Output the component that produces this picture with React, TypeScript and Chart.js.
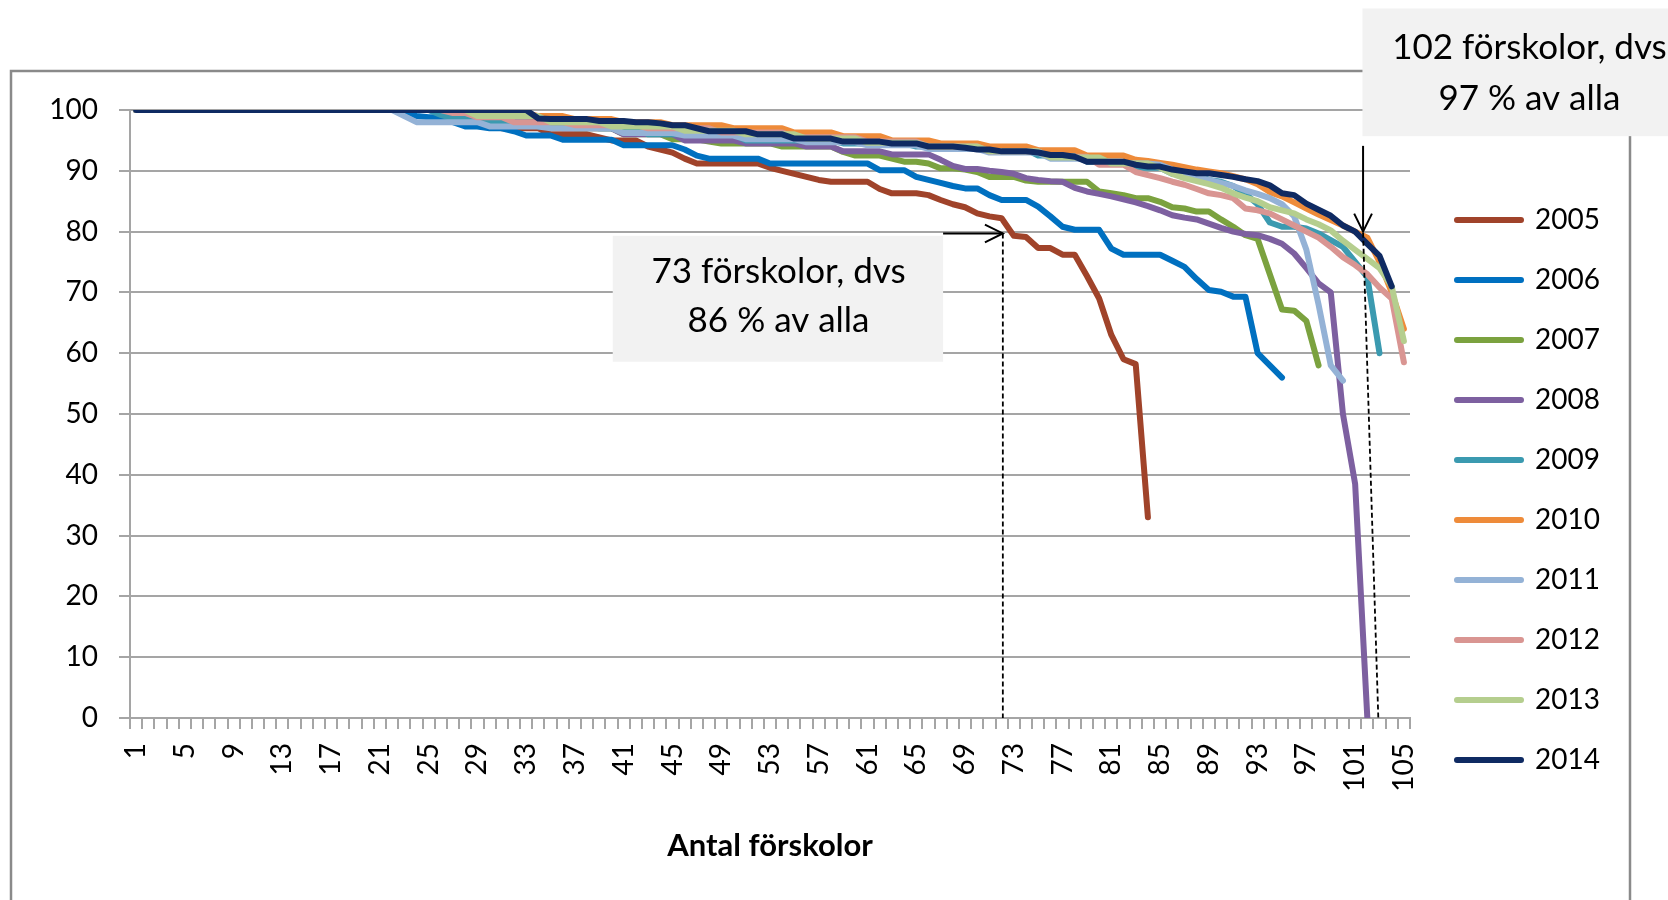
import React, { useEffect, useRef } from 'react';
import { Chart, registerables } from 'chart.js';

Chart.register(...registerables);

const categories = [
  '1','2','3','4','5','6','7','8','9','10','11','12','13','14','15','16','17','18','19','20',
  '21','22','23','24','25','26','27','28','29','30','31','32','33','34','35','36','37','38','39','40',
  '41','42','43','44','45','46','47','48','49','50','51','52','53','54','55','56','57','58','59','60',
  '61','62','63','64','65','66','67','68','69','70','71','72','73','74','75','76','77','78','79','80',
  '81','82','83','84','85','86','87','88','89','90','91','92','93','94','95','96','97','98','99','100',
  '101','102','103','104','105',
];

const yearLabels = ['2005', '2006', '2007', '2008', '2009', '2010', '2011', '2012', '2013', '2014'];
const yearColors = ['#A0432A', '#0070C0', '#7BA23F', '#7D60A0', '#3B9AB0', '#EE8B3A', '#94B2D6', '#D99592', '#B5CE8E', '#0F2A62'];

const s2005 = [
  100,100,100,100,100,100,100,100,100,100,100,100,100,100,100,100,100,100,100,100,100,100,100,100,100,100,
  99,99,98,98,97,97,97,97,96,96,96,96,95.5,95,95,95,94,93.5,93,92,91.2,91.2,91.2,91.2,91.2,91.2,
  90.5,90,89.5,89,88.5,88.2,88.2,88.2,88.2,87,86.3,86.3,86.3,86,85.2,84.5,84,83,82.5,82.2,
  79.3,79.1,77.3,77.3,76.2,76.2,72.7,69,63,59,58.2,33,
];
const s2006 = [
  100,100,100,100,100,100,100,100,100,100,100,100,100,100,100,100,100,100,100,100,100,100,100,
  99,98.8,98.8,98,97.3,97.3,97,97,96.5,95.8,95.8,95.8,95.1,95.1,95.1,95.1,95.1,
  94.2,94.2,94.2,94.2,94.2,93.5,92.5,92,92,92,92,92,
  91.2,91.2,91.2,91.2,91.2,91.2,91.2,91.2,91.2,90.1,90.1,90.1,89,88.5,88,87.5,87.1,87.1,86,
  85.2,85.2,85.2,84.1,82.5,80.8,80.3,80.3,80.3,77.2,76.2,76.2,76.2,76.2,75.2,74.2,72.2,
  70.4,70.1,69.3,69.3,60,58,56,
];
const s2007 = [
  100,100,100,100,100,100,100,100,100,100,100,100,100,100,100,100,100,100,100,100,100,100,100,100,100,100,100,
  99.5,99,99,99,99,99,98,98,98,97,97,97,97,96,96,96,96,95.2,95.2,95.2,94.8,
  94.5,94.5,94.5,94.5,94.5,94,94,94,94,94,93.1,92.5,92.5,92.5,92,91.5,91.5,91.2,90.4,90.4,90.2,89.8,
  89,89,89,88.4,88.2,88.2,88.2,88.2,88.2,86.6,86.3,86,85.5,85.5,84.9,84,83.8,83.3,83.3,82,
  80.8,79.4,78.8,73,67.2,67,65.3,58,
];
const s2008 = [
  100,100,100,100,100,100,100,100,100,100,100,100,100,100,100,100,100,100,100,100,100,100,100,100,100,100,100,
  99,99,99,98,98,98,98,98,97,97,97,97,97,96,96,96,96,96,95,95,95,95,95,
  94.5,94.5,94.5,94.5,94.5,94,94,94,93.2,93.2,93.2,93.2,92.7,92.7,92.7,92.7,91.8,90.8,90.3,90.3,
  90,89.8,89.5,88.8,88.5,88.3,88.2,87.2,86.6,86.2,85.8,85.3,84.8,84.2,83.5,82.7,82.3,82,81.3,80.6,
  80,79.6,79.4,78.8,78,76.4,74,71.5,70,50,38.5,0,
];
const s2009 = [
  100,100,100,100,100,100,100,100,100,100,100,100,100,100,100,100,100,100,100,100,100,100,100,100,100,
  99.2,98.6,98.6,98.6,98,98,98,98,97.3,97.3,97.3,97.3,97.3,97,97,97,97,
  96,96,96,96,96,96,96,96,95,95,95,95,95,95,95,95,94.5,94.5,94.5,94.5,94.5,94.5,
  94,94,94,94,94,94,93.5,93.5,93.5,93.5,92.5,92.5,92.5,92.5,91.5,91.5,91.5,91.5,90.5,90.5,90.5,
  89.5,89.5,89.5,88.5,88.2,87.5,86.2,84.5,81.5,80.8,80.8,80.5,79.7,78.6,77.5,75,72.5,60,
];
const s2010 = [
  100,100,100,100,100,100,100,100,100,100,100,100,100,100,100,100,100,100,100,100,100,100,100,100,100,100,100,100,100,100,
  99.5,99.5,99.5,99,99,99,98.5,98.5,98.5,98.5,98,98,98,98,97.5,97.5,97.5,97.5,97.5,97,97,97,97,97,
  96.3,96.3,96.3,96.3,95.7,95.7,95.7,95.7,95,95,95,95,94.5,94.5,94.5,94.5,94,94,94,94,
  93.4,93.4,93.4,93.4,92.5,92.5,92.5,92.5,91.8,91.6,91.3,91,90.6,90.2,89.9,89.6,89.1,88.6,87.8,86.5,
  85.8,84.8,83.8,82.8,81.9,81,80,79,75,70,64,
];
const s2011 = [
  100,100,100,100,100,100,100,100,100,100,100,100,100,100,100,100,100,100,100,100,100,100,
  99,98,98,98,98,98,98,97.3,97.3,97.3,97.3,97.3,97,97,97,97,97,97,96.2,96.2,96.2,96.2,96.2,
  95.8,95.8,95.8,95.8,95.8,95.2,95.2,95.2,95.2,95.2,94.7,94.7,94.7,94.7,94.7,94.2,94.2,94.2,94.2,94.2,
  93.6,93.6,93.6,93.6,93.6,93,93,93,93,93,92,92,92,92,92,91.2,91.2,91.2,91.2,91,90.2,89.5,89,88.5,
  88,87.5,86.8,86.2,85.5,84.5,82.5,77,68,58,55.5,
];
const s2012 = [
  100,100,100,100,100,100,100,100,100,100,100,100,100,100,100,100,100,100,100,100,100,100,100,100,100,100,
  99.5,99.5,98.8,98.8,98.8,98,98,98,98,98,97.5,97.5,97.5,97.5,97.5,97.5,97,97,97,97,97,97,
  96.3,96.3,96.3,96.3,96.3,96.3,95.5,95.5,95.5,95.5,95.5,95.5,94.8,94.8,94.8,94.8,94.8,
  94,94,94,94,94,93.2,93.2,93.2,93.2,93.2,92.3,92.3,92.3,92.3,91,91,91,89.8,89.3,88.8,88.2,87.7,87,
  86.3,86,85.5,83.8,83.5,83,82,81,80,79,77.5,75.8,74.5,73,70.8,69,58.5,
];
const s2013 = [
  100,100,100,100,100,100,100,100,100,100,100,100,100,100,100,100,100,100,100,100,100,100,100,100,100,100,100,100,
  99,99,99,99,99,99,98,98,98,98,98,97.3,97.3,97.3,97.3,97.3,97.3,96.6,96.6,96.6,96.6,96.6,
  96,96,96,96,96,95.3,95.3,95.3,95.3,95.3,94.6,94.6,94.6,94.6,94.6,94,94,94,94,94,
  93.2,93.2,93.2,93.2,93.2,92.2,92.2,92.2,92.2,92.2,91.2,91.2,91.2,91.2,90.5,89.5,88.8,88.3,87.8,87.2,
  86.3,85.6,85,84,83.5,83,82,81.2,80.2,78.5,77,75.5,74,71,62,
];
const s2014 = [
  100,100,100,100,100,100,100,100,100,100,100,100,100,100,100,100,100,100,100,100,100,100,100,100,100,100,100,100,100,100,100,100,100,
  98.6,98.5,98.5,98.5,98.5,98.2,98.2,98.2,98,98,97.8,97.5,97.5,97,96.5,96.5,96.5,96.5,96,96,96,
  95.3,95.3,95.3,95.3,94.8,94.8,94.8,94.8,94.5,94.5,94.5,94,94,94,93.8,93.5,93.5,93.2,93.2,93.2,93,
  92.6,92.6,92.3,91.5,91.5,91.5,91.5,91,90.7,90.7,90.2,89.9,89.6,89.6,89.3,89,88.6,88.3,87.6,86.3,86,
  84.6,83.6,82.6,81,80,78,76,71,
];

const seriesValues = [s2005, s2006, s2007, s2008, s2009, s2010, s2011, s2012, s2013, s2014];

const yTicks = { min: 0, max: 100, step: 10 };
const xTitle = 'Antal förskolor';

// Annotations, in data units (category number, percent value)
const note1Text = ['73 förskolor, dvs', '86 % av alla'];
const note1Box = { n0: 40.1, n1: 67.2, v0: 79.3, v1: 58.6, textN: 53.7, textV: [73.4, 65.3] };
const note1Arrow = { n0: 67.2, n1: 72.1, v: 79.7 };
const note1Drop = { n0: 72.1, v0: 79.7, n1: 72.1, v1: 0 };

const note2Text = ['102 förskolor, dvs', '97 % av alla'];
const note2Box = { n0: 101.6, n1: 128, v0: 116.7, v1: 95.7, textN: 115.3, textV: [110.2, 101.8] };
const note2Arrow = { n: 101.65, v0: 94.1, v1: 80.0 };
const note2Drop = { n0: 101.65, v0: 79.8, n1: 102.9, v1: 0 };

const W = 1668;
const H = 900;
const PLOT_LEFT = 130;
const PLOT_RIGHT = 1410;
const PLOT_TOP = 110;
const PLOT_BOTTOM = 718;
const LEGEND_FONT = 28;
const LEGEND_PAD = 32;
const LEGEND_LINE = 64;
const SPACER = 15;

function drawArrowHead(ctx: CanvasRenderingContext2D, x: number, y: number, angle: number) {
  const len = 20;
  const spread = 0.46;
  ctx.beginPath();
  ctx.moveTo(x - len * Math.cos(angle - spread), y - len * Math.sin(angle - spread));
  ctx.lineTo(x, y);
  ctx.lineTo(x - len * Math.cos(angle + spread), y - len * Math.sin(angle + spread));
  ctx.stroke();
}

const framePlugin = {
  id: 'frame',
  beforeDraw(chart: any) {
    const ctx = chart.ctx as CanvasRenderingContext2D;
    ctx.save();
    ctx.fillStyle = '#ffffff';
    ctx.fillRect(0, 0, chart.width, chart.height);
    ctx.strokeStyle = '#8a8a8a';
    ctx.lineWidth = 2.5;
    ctx.strokeRect(11, 71, 1619, 900);
    ctx.restore();
  },
};

const notesPlugin = {
  id: 'notes',
  afterDraw(chart: any) {
    const ctx = chart.ctx as CanvasRenderingContext2D;
    const xs = chart.scales.x;
    const ys = chart.scales.y;
    const px = (n: number) => xs.getPixelForValue(n - 1);
    const py = (v: number) => ys.getPixelForValue(v);
    ctx.save();
    const drawBox = (b: any, lines: string[]) => {
      const x0 = px(b.n0), x1 = px(b.n1), y0 = py(b.v0), y1 = py(b.v1);
      ctx.fillStyle = '#f2f2f2';
      ctx.fillRect(x0, y0, x1 - x0, y1 - y0);
      ctx.fillStyle = '#000';
      ctx.font = '35px Lato';
      ctx.textAlign = 'center';
      ctx.textBaseline = 'middle';
      lines.forEach((t, i) => ctx.fillText(t, px(b.textN), py(b.textV[i])));
    };
    drawBox(note1Box, note1Text);
    drawBox(note2Box, note2Text);

    ctx.strokeStyle = '#000';
    ctx.lineWidth = 2;
    ctx.lineCap = 'butt';
    // arrow 1 (horizontal)
    const a1y = py(note1Arrow.v);
    ctx.beginPath();
    ctx.moveTo(px(note1Arrow.n0), a1y);
    ctx.lineTo(px(note1Arrow.n1), a1y);
    ctx.stroke();
    drawArrowHead(ctx, px(note1Arrow.n1), a1y, 0);
    // arrow 2 (vertical)
    const a2x = px(note2Arrow.n);
    ctx.beginPath();
    ctx.moveTo(a2x, py(note2Arrow.v0));
    ctx.lineTo(a2x, py(note2Arrow.v1));
    ctx.stroke();
    drawArrowHead(ctx, a2x, py(note2Arrow.v1), Math.PI / 2);

    ctx.setLineDash([5, 3]);
    ctx.lineWidth = 1.8;
    [note1Drop, note2Drop].forEach((d) => {
      ctx.beginPath();
      ctx.moveTo(px(d.n0), py(d.v0));
      ctx.lineTo(px(d.n1), py(d.v1));
      ctx.stroke();
    });
    ctx.restore();
  },
};

export default function App() {
  const ref = useRef<HTMLCanvasElement | null>(null);

  useEffect(() => {
    const canvas = ref.current;
    if (!canvas) return;

    // legend width so that the legend starts where the reference has it
    const m = document.createElement('canvas').getContext('2d') as CanvasRenderingContext2D;
    m.font = `${LEGEND_FONT}px Lato`;
    const maxText = Math.max(...yearLabels.map((t) => m.measureText(t).width));
    const legendW = LEGEND_PAD + LEGEND_LINE + LEGEND_FONT / 2 + maxText + 10;
    const padRight = Math.max(0, W - PLOT_RIGHT - SPACER - legendW);

    Chart.defaults.font.family = 'Lato';

    const datasets = seriesValues.map((vals, i) => ({
      label: yearLabels[i],
      data: vals,
      borderColor: yearColors[i],
      backgroundColor: yearColors[i],
      borderWidth: 6,
      pointRadius: 0,
      pointHoverRadius: 0,
      tension: 0,
      fill: false,
      borderCapStyle: 'round' as const,
      borderJoinStyle: 'round' as const,
      order: seriesValues.length - 1 - i,
      yAxisID: 'y',
    }));

    const chart = new Chart(canvas, {
      type: 'line',
      data: { labels: categories, datasets },
      options: {
        responsive: false,
        animation: false,
        devicePixelRatio: 1,
        layout: { padding: { top: PLOT_TOP, bottom: H - 870, left: 0, right: padRight } },
        scales: {
          x: {
            type: 'category',
            offset: true,
            grid: {
              display: true,
              drawOnChartArea: false,
              drawTicks: true,
              tickLength: 11,
              color: '#a5a5a5',
              lineWidth: 2,
              offset: true,
            },
            border: { display: true, color: '#a5a5a5', width: 2 },
            ticks: {
              autoSkip: false,
              maxRotation: 90,
              minRotation: 90,
              padding: 14,
              color: '#000',
              font: { size: 28 },
              callback: (_v: any, index: number) => (index % 4 === 0 ? categories[index] : ''),
            },
            title: {
              display: true,
              text: xTitle,
              color: '#000',
              font: { size: 31, weight: 'bold' },
              padding: { top: 0, bottom: 5 },
            },
            afterFit: (s: any) => {
              s.height = 870 - PLOT_BOTTOM;
            },
          },
          y: {
            type: 'linear',
            position: 'left',
            min: yTicks.min,
            max: yTicks.max,
            ticks: { stepSize: yTicks.step, padding: 21, color: '#000', font: { size: 28 } },
            grid: { color: '#a5a5a5', lineWidth: 2, tickLength: 11, drawTicks: true },
            border: { display: true, color: '#a5a5a5', width: 2 },
            afterFit: (s: any) => {
              s.width = PLOT_LEFT;
            },
          },
          spacer: {
            type: 'linear',
            position: 'right',
            display: true,
            grid: { display: false, drawTicks: false },
            border: { display: false },
            ticks: { display: false },
            afterFit: (s: any) => {
              s.width = SPACER;
            },
          },
        },
        plugins: {
          tooltip: { enabled: false },
          legend: {
            display: true,
            position: 'right',
            align: 'center',
            labels: {
              usePointStyle: true,
              pointStyle: 'line',
              pointStyleWidth: LEGEND_LINE,
              padding: LEGEND_PAD,
              color: '#000',
              font: { size: LEGEND_FONT },
              sort: (a: any, b: any) => a.datasetIndex - b.datasetIndex,
              generateLabels: (c: any) => {
                const base = (Chart.defaults.plugins.legend.labels as any).generateLabels(c);
                return base.map((it: any) => ({
                  ...it,
                  lineWidth: 6,
                  lineCap: 'round',
                  strokeStyle: yearColors[it.datasetIndex],
                  fillStyle: yearColors[it.datasetIndex],
                }));
              },
            },
          },
        },
      },
      plugins: [framePlugin, notesPlugin],
    } as any);

    return () => chart.destroy();
  }, []);

  return (
    <div style={{ position: 'fixed', left: 0, top: 0, width: W, height: H, background: '#fff' }}>
      <canvas ref={ref} width={W} height={H} style={{ display: 'block', width: W, height: H }} />
    </div>
  );
}
